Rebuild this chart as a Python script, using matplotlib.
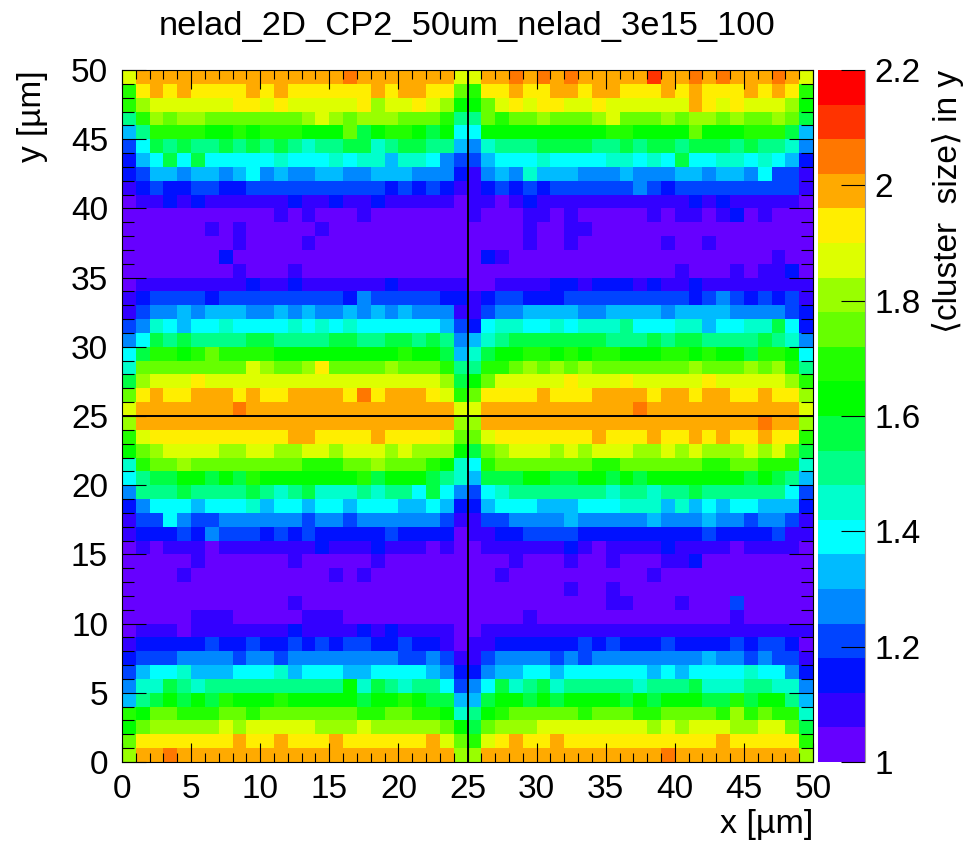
import numpy as np
import matplotlib
matplotlib.use("Agg")
import matplotlib.pyplot as plt
from matplotlib.colors import ListedColormap, BoundaryNorm

plt.rcParams['font.family'] = ['Liberation Sans', 'DejaVu Sans']

title = "nelad_2D_CP2_50um_nelad_3e15_100"

# palette bands, bottom to top of the colour bar
band_colors = ["#6600ff", "#3300ff", "#0011ff", "#0044ff", "#0088ff", "#00bbff", "#00ffff",
               "#00ffcc", "#00ff88", "#00ff44", "#00ff00", "#22ff00", "#66ff00", "#99ff00",
               "#ddff00", "#ffee00", "#ffaa00", "#ff7700", "#ff3300", "#ff0000"]
z_min = 1.0
z_max = 2.2
z_ticks = [1, 1.2, 1.4, 1.6, 1.8, 2, 2.2]
z_tick_labels = ["1", "1.2", "1.4", "1.6", "1.8", "2", "2.2"]
xy_ticks = list(range(0, 51, 5))

# band index of each bin in base 36, top row (y = 49-50) first, spaces are only for reading
band_rows = [
    "e ggggggggggggggg h ggggggg e  e gg h g h g h ggggg i gg h g h ggg h g e",
    "b f g f g ffff g f g ffffff g f gg ff c  b ff g ff gg f gg fff g f g fff g f g f b",
    "b d eeeeee ff e f eeeee f d ee f e d a  a c e f e ff ee f eeeeee g f e f eee d a",
    "8 b d c dd ccccccc d e d c ddd ccc b 8  8 c b cc d ccc d e ccc d c dd c d cc d c 9",
    "5 8 bbbb aa b a bbb aaa c 9 a bb a 9 a 6  6 aaaaaaaaa bb aaaa c aaa bbb 9 5",
    "3 6 9 8 9 88 9 8 9 8 9 8 7 88 99 7 8 99 88 5  4 7 888 9999 88 9 8 99 8 999 8 9 88 7 4",
    "2 5 6 9 6 9 66666 7 666 7 6 77 5 77 6 4 3  3 5 666 7 6666 77 6 7 6 9 66 77 6 7 6 5 2",
    "2 3 55 4 55 4 5 6 4 5 44 55 44 555 444 2  1 4 5 4 7 555 444 5 444 55 4 55 4 6 33 1",
    "1 2 3 22 33 22 3333333333 2 3 2 3 2 1  1 2 3 2 3 2 333333 4 3 2 333333333 1",
    "0 11 2 1 2 111111 2 11 2 11 2 11111 0  1 1 0 1 2 11111111111 2 1 2 11111 0",
    "00000000000 1 0 1 000 1 0000000  1 000 11 0 1 00000 1 0 11 0 1 2 0 1 000",
    "000000 1 0 1 00000 1 0000000000  0000 1 00 11 0000000000000000",
    "00000000 1 0000 1 00000000000  0000 1 00 1 000000 1 00 1 0000000",
    "0000000 2 00000000000000000  0 2 1 0000000000000000000 1 00",
    "00000000 1 000 1 000000000000  000000000000000 1 000 1 0 11 2 0",
    "0 11111111 2 11 2 111111 2 11111  00 1111 22 1 222 1 2 11 2 11111111",
    "1 2 3333 2 333333333 2 4 33333 22  1 2 33 222 333333333 2 3 4 3 2 3 2 3 1",
    "1 3 44 5 4 555 44 5 4 5 44 5 4 5 4 5 444 1  1 3 44 5555 44 5555 4 5555 4444 3 2",
    "3 4 7 6 5 66 7 6666 7 6 7 6 7 666666 5 3  2 6 77 66 7 6 777 8 666 77 5 66 77 9 6 2",
    "4 6 9 8 9 8888 99 8888 99 88 99 8 9 8 4  5 7 8 9999999 888 9 8 99 8888 9 8 7 4",
    "6 9 bb a b c bbbb aaaaaaaaa b aa 9 5  7 9 aa bb a b a bb aaa bb a b aa 9 bb a 6",
    "7 cccccccc e d cc d f cccc d ccc b 8  8 bb c d c d c d ccccccc d ccc d c d b 8",
    "9 d eee f eeeeeeeeeeeeeeeee d 9  a c eeeee f eee f eeeee f eeeee d b",
    "c f g ff ggg f g ff gggg f h f ggg f e b  c ffff g fff gggg f gg f gg ff g ff d",
    "e ggggggg h ggggggggggggggg e  e ggggggggggg h ggggggggggg e",
    "d ggggggggggggggggggggggg d  d gggggggggggggggggggg h gg d",
    "b e ffffffffff gg ffff g ffff e c  c e fffffff g fff g ff g f g ff g ff b",
    "a c d eeee dd ee dd ee d eee d e ddd a  9 c d eee d e d eee dd e d e ddd e d e c 9",
    "7 b cc d cccccccc bbb cc d ccc b a 7  6 b ccccccc bb cccccc bb cc bbb 7",
    "6 8 99 aa 9 a 9 b aaaaaaa b 9 aaa 9 8 7  5 999 aa 99 aa 9 a 9 aaaaaaa 9 a 9 8 5",
    "4 888 9 8888 9 8 7 8 9 777 8 7 88 6 9 6 4  3 6 7 8888888 7 88 7 88 9 888888 6 3",
    "2 4 666 5 666 7 5 66 5 66 5 666 55 6 5 2  2 5 666 555 666 777 5 7 5 6 5 66 555 2",
    "1 33 6 4 33 444444 3 44 3 444444 3 1  1 33 4444 5 44444 5 444 5 44 3 44 3 1",
    "1 222 3 2 4 333 2 3 2 3 22222 3 2222 0  11 22 3333 222222222 3 2222 3 1 1",
    "0 1 0 111 0 1111111 2 111 2 111 0 1 0  0 111111 2 1 0 1111 2 1111 0 1111 0",
    "00000 1 000000 1 00000 1 000000  000 1 000 1 00 1 000 11 2 00000000",
    "0000 1 0000000000 1 0 1 0000000  00 1 0000000000 1 00000000000",
    "0000000000000000000000000  0000000 1 00 1 00000000000000",
    "000000000000 1 000000000000  0000000000 11 000 1 000 3 00000",
    "00000 111 00000 111 000000000  0000 1 00000000000000 1 00000",
    "0 111 0 1111111 2 1111 2 1 2 1111 0  0 111111111111111111111111",
    "1 22222 3 22 3 22 3 2 3 2 33 22 3 22 1 0  11 222222 3 2 3 222 3 2222 3 2 33 2 0",
    "2 333 4444 3 44 3 44444444 33 4 3 1  1 3 4444 3 4 3 44444444 5 44 3 4 33 1",
    "3 5 66 7 555 666 7 5 666 55 6666 5 4 2  2 4 55 66 5 666666 5 6 5 6666 7 66 4 2",
    "4 77 9 8 7 8888888888 a 7 9 8 7 88 6 3  4 6 9 7 8 9 7 88888 7 888 9 777 88 77 4",
    "5 8 9 a 9 a 9 b aaa b aaaaa 9 aa b a 99 5  5 9 aa 9 a 9 aaaa 9 a 9 aaa 99 b 9 aa 8 5",
    "b a cc bbb cc b ccccccc bb cc bb a 7  8 a b ccccc b ccc bb cccc b d b c bb 7",
    "a c ddddd e d eeeee ddd e ddddd c a  9 c ddd eeeeeeee d e d eee dd ee c 9",
    "c fffffff g ff g fff g ffffff g e c  b e f g ff g fffffffffff g fffff b",
    "d gg h gggggggggggggggggggg d  d ggggggggggggg h ggggggggg d",
]

W, H = 963, 843
fig = plt.figure(figsize=(W / 100, H / 100), dpi=100)

def px_axes(x0, y0, x1, y1):
    return fig.add_axes([x0 / W, 1 - y1 / H, (x1 - x0) / W, (y1 - y0) / H])

bands = np.array([[int(c, 36) for c in row.replace(" ", "")] for row in band_rows])
step = (z_max - z_min) / len(band_colors)
cluster_size = z_min + step * (bands[::-1] + 0.5)

edges = np.linspace(0, 50, 51)
levels = np.linspace(z_min, z_max, len(band_colors) + 1)
cmap = ListedColormap(band_colors)
norm = BoundaryNorm(levels, cmap.N)

ax = px_axes(122, 70, 813, 762)
mesh = ax.pcolormesh(edges, edges, cluster_size, cmap=cmap, norm=norm)
ax.axvline(25, color='black', lw=1.4)
ax.axhline(25, color='black', lw=1.4)
ax.set_xlim(0, 50)
ax.set_ylim(0, 50)
ax.set_xticks(xy_ticks)
ax.set_yticks(xy_ticks)
ax.set_xticks(edges, minor=True)
ax.set_yticks(edges, minor=True)
ax.tick_params(axis='x', which='major', direction='in', top=True, length=13.5, width=0.8,
               labelsize=24, pad=9)
ax.tick_params(axis='x', which='minor', direction='in', top=True, length=6.5, width=0.8)
ax.tick_params(axis='y', which='major', direction='in', right=True, length=17, width=0.8,
               labelsize=24, pad=10)
ax.tick_params(axis='y', which='minor', direction='in', right=True, length=8.5, width=0.8)
for spine in ax.spines.values():
    spine.set_linewidth(0.8)

cax = px_axes(818, 70, 865, 762)
cb = fig.colorbar(mesh, cax=cax, ticks=z_ticks, spacing='proportional', drawedges=False)
cb.ax.set_yticklabels(z_tick_labels)
cb.ax.minorticks_off()
cb.ax.tick_params(axis='y', direction='in', length=17, width=0.8, labelsize=24, pad=7)
cb.outline.set_visible(False)
cb.ax.axvline(1, color='#999999', lw=0.8, clip_on=False)

fig.text(467, H - 27, title, fontsize=24.8, ha='center', va='center',
         transform=None)
fig.text(33, H - 70, "y [µm]", fontsize=24, rotation=90, ha='center', va='top', transform=None)
fig.text(813, H - 825, "x [µm]", fontsize=24.5, ha='right', va='center', transform=None)
fig.text(948, H - 70, "\u27e8cluster  size\u27e9 in y", fontsize=24, rotation=90, ha='center',
         va='top', transform=None)

fig.savefig("out.png", dpi=100)
